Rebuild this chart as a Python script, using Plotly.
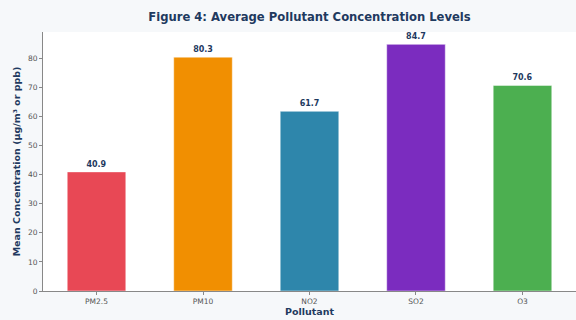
import plotly.graph_objects as go

pollutants = ["PM2.5", "PM10", "NO2", "SO2", "O3"]
mean_values = [40.9, 80.3, 61.7, 84.7, 70.6]
bar_colors = ["#E84855", "#F18F01", "#2E86AB", "#7B2CBF", "#4CAF50"]
y_ticks = [0, 10, 20, 30, 40, 50, 60, 70, 80]

navy = "#1f3a5f"

fig = go.Figure(go.Bar(
    x=list(range(len(pollutants))),
    y=mean_values,
    width=0.55,
    marker=dict(color=bar_colors, line=dict(color="rgba(255,255,255,0.6)", width=0.8)),
    text=[f"{v:.1f}" for v in mean_values],
    textposition="outside",
    cliponaxis=False,
    textfont=dict(family="DejaVu Sans", size=8, color=navy, weight="bold"),
))

fig.update_layout(
    width=576, height=320,
    margin=dict(l=43, r=0, t=32, b=29, autoexpand=False),
    paper_bgcolor="#f6f8fa",
    plot_bgcolor="#ffffff",
    showlegend=False,
    title=dict(text="<b>Figure 4: Average Pollutant Concentration Levels</b>",
               x=(43 + 576) / 2 / 576, xanchor="center", y=1 - 17 / 320, yanchor="middle",
               font=dict(family="DejaVu Sans", size=11.6, color=navy)),
    font=dict(family="DejaVu Sans", size=7, color="#555555"),
)

fig.update_xaxes(
    automargin=False,
    range=[-0.5025, 4.5025],
    tickmode="array", tickvals=list(range(len(pollutants))), ticktext=pollutants,
    showline=True, linecolor="#888888", linewidth=1,
    ticks="outside", ticklen=3, tickcolor="#888888",
    showgrid=False, zeroline=False,
    tickfont=dict(size=7.5, color="#555555"),
    title=dict(text="<b>Pollutant</b>", font=dict(size=9.5, color=navy), standoff=1),
)
fig.update_yaxes(
    automargin=False,
    range=[0, 88.935],
    tickmode="array", tickvals=y_ticks,
    showline=True, linecolor="#888888", linewidth=1,
    ticks="outside", ticklen=3, tickcolor="#888888",
    showgrid=False, zeroline=False,
    tickfont=dict(size=7.5, color="#555555"),
    title=dict(text="<b>Mean Concentration (µg/m³ or ppb)</b>", font=dict(size=9.5, color=navy), standoff=5),
)

fig.write_html("out.html", config={"displayModeBar": False},
               post_script="document.body.style.margin='0';document.body.style.overflow='hidden';")
